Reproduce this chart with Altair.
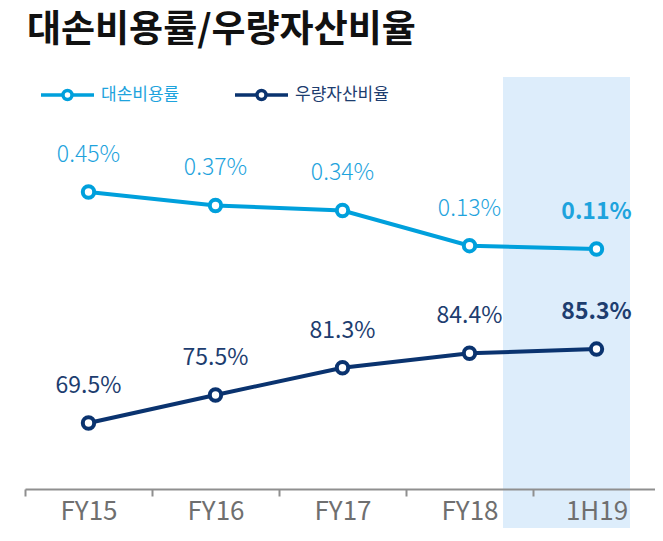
import altair as alt
import pandas as pd

categories = ["FY15", "FY16", "FY17", "FY18", "1H19"]
loss_ratio = [0.45, 0.37, 0.34, 0.13, 0.11]        # 대손비용률 (%)
prime_ratio = [69.5, 75.5, 81.3, 84.4, 85.3]       # 우량자산비율 (%)
series_names = ["대손비용률", "우량자산비율"]
highlight_cat = ["1H19"]

LIGHT = "#00a0dc"
LIGHT_TXT = "#1ea3dd"
DARK = "#0a336f"
DARK_TXT = "#1d3d6f"
FONT = "Noto Sans CJK KR"

loss_df = pd.DataFrame({"cat": categories, "v": loss_ratio, "series": series_names[0]})
prime_df = pd.DataFrame({"cat": categories, "v": prime_ratio, "series": series_names[1]})
hl_df = pd.DataFrame({"cat": highlight_cat})

x_enc = alt.X(
    "cat:N",
    sort=categories,
    scale=alt.Scale(paddingInner=0, paddingOuter=0),
    axis=alt.Axis(
        title=None, labelAngle=0, labelAlign="center", tickBand="extent", domainColor="#8f8f8f",
        tickColor="#8f8f8f", domainWidth=2, tickWidth=2, tickSize=7,
        labelFontSize=26, labelColor="#6f6f6f", labelFont=FONT, labelPadding=15,
        labelFontWeight="normal",
    ),
)

loss_y = alt.Y("v:Q", scale=alt.Scale(domain=[-1.322, 1.238], nice=False, zero=False), axis=None)
prime_y = alt.Y("v:Q", scale=alt.Scale(domain=[55.4, 147.07], nice=False, zero=False), axis=None)

color_enc = alt.Color(
    "series:N",
    scale=alt.Scale(domain=series_names, range=[LIGHT, DARK]),
    legend=alt.Legend(
        title=None, orient="none", legendX=14, legendY=6, direction="horizontal",
        symbolType="M-1,0L-0.17,0M0.17,0L1,0M0.17,0A0.17,0.17,0,1,1,-0.17,0A0.17,0.17,0,1,1,0.17,0Z",
        symbolSize=2809, symbolStrokeWidth=3.5, symbolFillColor="white",
        labelFontSize=17, labelFont=FONT, labelOffset=5, columnPadding=48,
        labelColor=alt.ExprRef("datum.value == '대손비용률' ? '" + LIGHT_TXT + "' : '" + DARK_TXT + "'"),
    ),
)

highlight = alt.Chart(hl_df).mark_rect(color="#ddedfb", xOffset=-30, x2Offset=-32).encode(
    x=alt.X("cat:N", sort=categories), y=alt.value(17), y2=alt.value(480)
)

def series_layers(df, y_enc, stroke, txt_color, fmt, light):
    base = alt.Chart(df).transform_calculate(
        label="format(datum.v, '" + fmt + "') + '%'"
    )
    line = base.mark_line(strokeWidth=4).encode(x=x_enc, y=y_enc, color=color_enc)
    pts = base.mark_point(filled=False, fill="white", fillOpacity=1, stroke=stroke,
                          strokeWidth=4, size=130, opacity=1).encode(x=x_enc, y=y_enc)
    txt = base.transform_filter(f"datum.cat != '{highlight_cat[0]}'").mark_text(
        dy=-37, fontSize=23, font=FONT, color=txt_color, fontWeight=300 if light else 400
    ).encode(x=x_enc, y=y_enc, text="label:N")
    txt_b = base.transform_filter(f"datum.cat == '{highlight_cat[0]}'").mark_text(
        dy=-37, fontSize=23, font=FONT, color=txt_color, fontWeight="bold"
    ).encode(x=x_enc, y=y_enc, text="label:N")
    return [line, pts, txt, txt_b]

layers = [highlight] + series_layers(loss_df, loss_y, LIGHT, LIGHT_TXT, ".2f", True) \
    + series_layers(prime_df, prime_y, DARK, DARK_TXT, ".1f", False)

chart = alt.layer(*layers).resolve_scale(y="independent").properties(
    width=635, height=429,
    autosize=alt.AutoSizeParams(type="none"),
    padding={"left": 17, "top": 52, "right": -5, "bottom": 39},
    title=alt.TitleParams("대손비용률/우량자산비율", anchor="start", fontSize=37,
                          font=FONT, fontWeight="bold", color="#111111", offset=10, dx=3),
).configure_view(stroke=None)

chart.save("out.html", embed_options={"renderer": "svg", "actions": False})
